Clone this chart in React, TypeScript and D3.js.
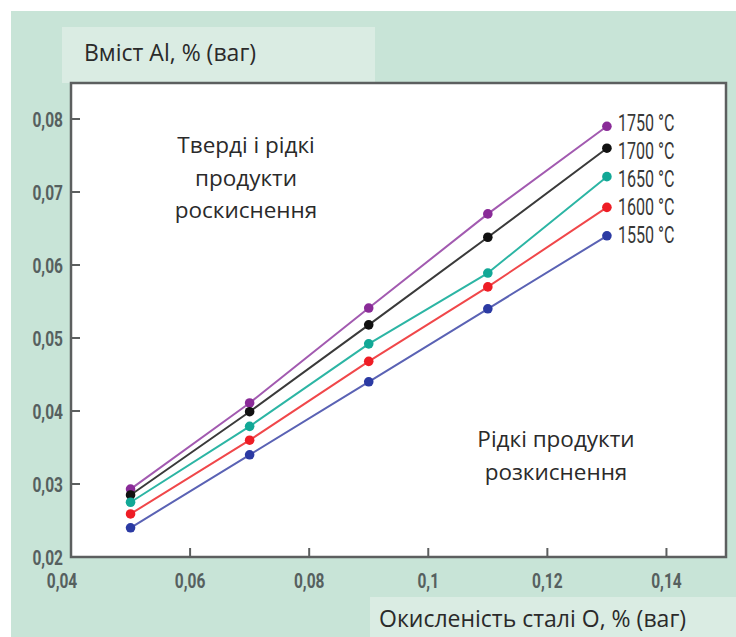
import * as d3 from "d3";

const oxidation = [0.05, 0.07, 0.09, 0.11, 0.13];
const temperatures = ["1750 °C", "1700 °C", "1650 °C", "1600 °C", "1550 °C"];
const al1750 = [0.0293, 0.0411, 0.0541, 0.067, 0.079];
const al1700 = [0.0285, 0.0399, 0.0518, 0.0638, 0.076];
const al1650 = [0.0275, 0.0379, 0.0492, 0.0589, 0.0721];
const al1600 = [0.0259, 0.036, 0.0468, 0.057, 0.0679];
const al1550 = [0.024, 0.034, 0.044, 0.054, 0.064];
const seriesValues = [al1750, al1700, al1650, al1600, al1550];
const lineColors = ["#a25ab0", "#3a3a3a", "#2cb5a4", "#f0474a", "#5a62b4"];
const dotColors = ["#8a2b98", "#111111", "#12a896", "#ee1d25", "#2b3aa3"];
const xTicks = [0.04, 0.06, 0.08, 0.1, 0.12, 0.14];
const yTicks = [0.02, 0.03, 0.04, 0.05, 0.06, 0.07, 0.08];

const width = 736;
const height = 637;
const plot = { left: 71, right: 726, top: 83, bottom: 557 };
const narrow = "Roboto, 'DejaVu Sans', sans-serif";
const body = "'Open Sans', 'Noto Sans', sans-serif";
const labelGap = 28;

const fmt = (v: number) => String(+v.toFixed(2)).replace(".", ",");

export default function App() {
  const x = d3.scaleLinear().domain([0.04, 0.15]).range([plot.left, plot.right]);
  const y = d3.scaleLinear().domain([0.02, 0.02 + (plot.bottom - plot.top) / 7300]).range([plot.bottom, plot.top]);
  const line = d3
    .line<number>()
    .x((_, i) => x(oxidation[i]))
    .y((v) => y(v));

  // end labels are spread evenly around the mean of the last points
  const lastX = x(oxidation[oxidation.length - 1]);
  const endYs = seriesValues.map((values) => y(values[values.length - 1]));
  const endMean = d3.mean(endYs) ?? 0;
  const mid = (seriesValues.length - 1) / 2;

  return (
    <svg width={width} height={height} style={{ position: "absolute", left: 0, top: 0 }}>
      <rect x={0} y={0} width={width} height={height} fill="#ffffff" />
      <rect x={11} y={11} width={width - 11} height={height - 11} fill="#c8e4d7" />
      <rect x={62} y={27} width={313} height={56} fill="#daece3" />
      <rect x={370} y={597} width={width - 370} height={40} fill="#daece3" />
      <text x={84} y={61} fontFamily={body} fontSize={23} fill="#2a2a2a">Вміст Al, % (ваг)</text>
      <text x={379} y={627} fontFamily={body} fontSize={23} fill="#2a2a2a">Окисленість сталі О, % (ваг)</text>

      <rect x={plot.left} y={plot.top} width={plot.right - plot.left} height={plot.bottom - plot.top} fill="#ffffff" stroke="#5c5f5f" strokeWidth={2.5} />

      {yTicks.map((t) => (
        <g key={`y-${t}`}>
          {t > 0.02 ? <line x1={plot.left} x2={plot.left + 9} y1={y(t)} y2={y(t)} stroke="#5c5f5f" strokeWidth={2} /> : null}
          <text transform={`translate(${plot.left - 8},${y(t)}) scale(0.74,1)`} dy="0.36em" textAnchor="end" fontFamily={narrow} fontWeight={700} fontSize={21} fill="#56605f">{fmt(t)}</text>
        </g>
      ))}
      {xTicks.map((t) => (
        <g key={`x-${t}`}>
          {t > 0.04 ? <line x1={x(t)} x2={x(t)} y1={plot.bottom} y2={plot.bottom - 9} stroke="#5c5f5f" strokeWidth={2} /> : null}
          <text transform={`translate(${t === 0.04 ? x(t) - 9 : x(t)},${plot.bottom + 31}) scale(0.74,1)`} textAnchor="middle" fontFamily={narrow} fontWeight={700} fontSize={21} fill="#56605f">{fmt(t)}</text>
        </g>
      ))}

      {seriesValues.map((values, si) => (
        <g key={temperatures[si]}>
          <path d={line(values) ?? ""} fill="none" stroke={lineColors[si]} strokeWidth={2} strokeLinejoin="round" />
          {values.map((v, i) => (
            <circle key={i} cx={x(oxidation[i])} cy={y(v)} r={4.8} fill={dotColors[si]} />
          ))}
          <text transform={`translate(${lastX + 11},${endMean + (si - mid) * labelGap}) scale(0.7,1)`} dy="0.36em" fontFamily={narrow} fontSize={23} fill="#383838">{temperatures[si]}</text>
        </g>
      ))}

      <g fontFamily={body} fontSize={22.5} fill="#2a2a2a" textAnchor="middle">
        <text x={246} y={153}>Тверді і рідкі</text>
        <text x={246} y={186}>продукти</text>
        <text x={246} y={218}>роскиснення</text>
        <text x={556} y={447}>Рідкі продукти</text>
        <text x={556} y={480}>розкиснення</text>
      </g>
    </svg>
  );
}
